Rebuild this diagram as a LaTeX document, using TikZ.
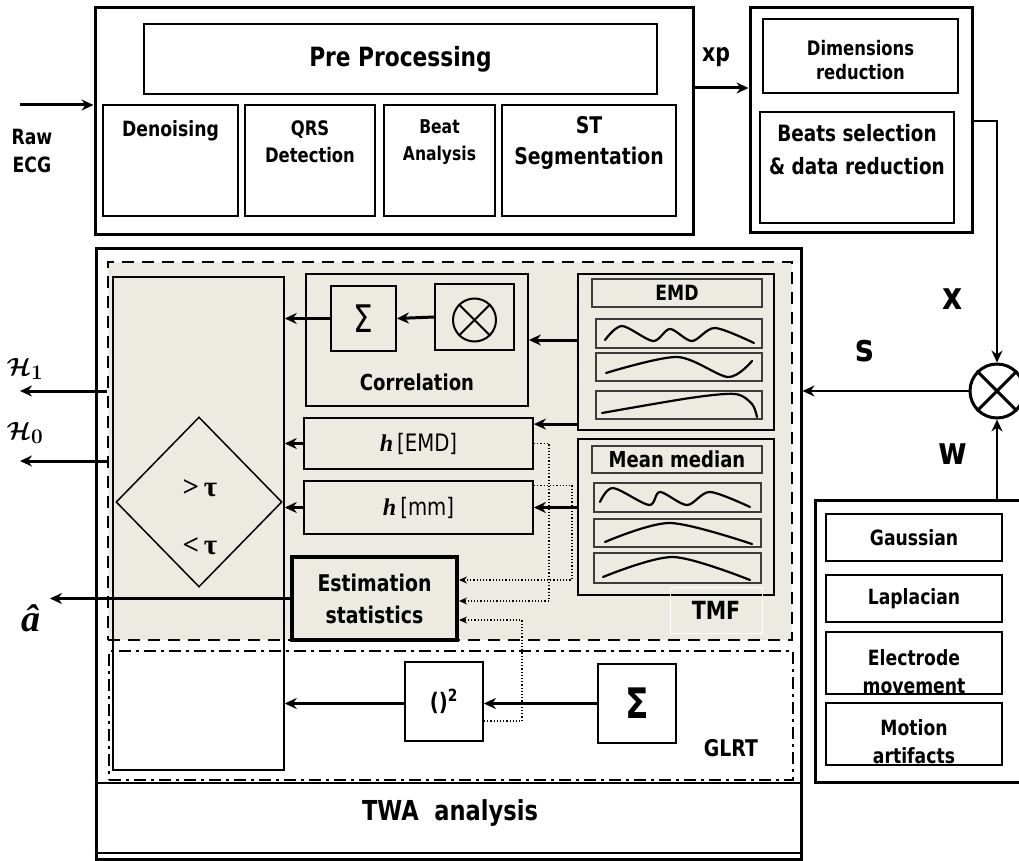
\documentclass[tikz,border=0pt]{standalone}
\usepackage{bm}
\usepackage{fontspec}
\setmainfont{DejaVu Sans}[FakeStretch=0.82]
\newfontfamily\serifbf{Liberation Serif}
\usetikzlibrary{arrows.meta,shapes.geometric}

\definecolor{panel}{RGB}{236,234,225}
\definecolor{edge}{RGB}{60,60,60}
\newcommand\fsz[2]{\fontsize{#1}{#2}\selectfont}

\begin{document}
\begin{tikzpicture}[x=1pt,y=-1pt,>={Stealth[length=12pt,width=11pt]},
frame/.style={draw,line width=3pt,inner sep=0pt},
box/.style={draw,line width=1.8pt,inner sep=0pt},
wavebox/.style={draw=edge,line width=1.2pt,inner sep=0pt},
flow/.style={->,line width=3pt},
dots/.style={line width=1.2pt,dotted,-{Stealth[length=8pt,width=7pt]}},
wave/.style={line width=2.2pt,line cap=round},
txt/.style={font=\bfseries\fsz{21}{28},align=center,inner sep=0pt}]

\useasboundingbox (0,0) rectangle (1019,861);
\clip (0,0) rectangle (1019,861);
\fill[white] (0,0) rectangle (1019,861);

% pre processing block
\node[frame,minimum width=598pt,minimum height=226pt] (pre) at (394,121) {};
\node[box,minimum width=513pt,minimum height=70pt,font=\bfseries\fsz{26.5}{30}] (pp) at (400.5,59) {Pre Processing};
\node[box,minimum width=135pt,minimum height=111pt] (den) at (170.5,160.5) {};
\node[box,minimum width=130pt,minimum height=111pt] (qrs) at (310,160.5) {};
\node[box,minimum width=111pt,minimum height=111pt] (beat) at (439.5,160.5) {};
\node[box,minimum width=174pt,minimum height=111pt] (seg) at (589,160.5) {};
\node[txt] (dent) at (170.5,131) {Denoising};
\node[txt,font=\bfseries\fsz{20}{27}] (qrst) at (310,142) {QRS\\Detection};
\node[txt,font=\bfseries\fsz{19}{27}] (beatt) at (439.5,142) {Beat\\Analysis};
\node[txt,font=\bfseries\fsz{23}{31}] (segt) at (589,143) {ST\\Segmentation};

\coordinate (raw) at (20,105);
\draw[flow] (raw) -- (raw -| pre.west);
\node[txt] (rawt) at (32,151) {Raw\\ECG};

% reduction block
\node[frame,minimum width=222pt,minimum height=224pt] (red) at (861,120) {};
\node[box,minimum width=195pt,minimum height=74pt] (dim) at (860.5,56) {};
\node[txt,font=\bfseries\fsz{20}{24}] (dimt) at (860.5,60) {Dimensions\\reduction};
\node[box,minimum width=194pt,minimum height=111pt] (sel) at (857,167.5) {};
\node[txt,font=\bfseries\fsz{22.5}{33}] (selt) at (857,150) {Beats selection\\\& data reduction};
\draw[flow] (pre.east |- 0,88) -- (red.west |- 0,88);
\node[font=\bfseries\fsz{25}{28}] (xp) at (716,57) {xp};

% TWA analysis block
\node[frame,minimum width=705pt,minimum height=611pt] (twa) at (448.5,553.5) {};
\node[draw,fill=panel,line width=2.5pt,dash pattern=on 12pt off 8pt,minimum width=684pt,minimum height=378pt,inner sep=0pt] (tmf) at (450,451) {};
\node[draw,line width=2.5pt,dash pattern=on 12pt off 5pt on 3pt off 5pt,minimum width=684pt,minimum height=129pt,inner sep=0pt] (glrt) at (451,715.5) {};
\draw[line width=1.5pt] (twa.west |- 0,783) -- (twa.east |- 0,783);
\draw[line width=1.2pt] (twa.west |- 0,853) -- (twa.east |- 0,853);
\node[font=\bfseries\fsz{27.5}{30}] (twat) at (450,813) {TWA\ \ analysis};

% decision column
\node[draw,line width=1.5pt,minimum width=171pt,minimum height=493pt,inner sep=0pt] (col) at (198.5,523.5) {};
\node[draw,diamond,line width=1.5pt,minimum width=166pt,minimum height=170pt,inner sep=0pt] (dec) at (199,502) {};
\node[font=\serifbf\bfseries\fsz{29}{30}] (gt) at (200,488) {>\,τ};
\node[font=\serifbf\bfseries\fsz{29}{30}] (lt) at (200,546) {<\,τ};

% correlation
\node[box,minimum width=222pt,minimum height=132pt] (corr) at (417,340) {};
\node[box,minimum width=65pt,minimum height=65pt,font=\fsz{38}{40}] (sumc) at (363.5,318.5) {Σ};
\node[box,minimum width=79pt,minimum height=66pt] (mult) at (474.5,317) {};
\node[circle,draw,line width=2pt,minimum size=43pt,inner sep=0pt] (tens) at (474.5,320) {};
\draw[line width=2pt] (tens.north west) -- (tens.south east) (tens.north east) -- (tens.south west);
\node[txt,font=\bfseries\fsz{22}{24}] (corrt) at (417,382) {Correlation};
\draw[flow] (mult.west) -- (sumc.east);
\draw[flow] (sumc.west) -- (col.east |- sumc.west);

% detectors
\node[box,fill=panel,minimum width=229pt,minimum height=51pt,font=\fsz{24}{26}] (hemd) at (418.5,443.5) {{\serifbf\bfseries\itshape h}\,[EMD]};
\node[box,fill=panel,minimum width=229pt,minimum height=53pt,font=\fsz{24}{26}] (hmm) at (418.5,507.5) {{\serifbf\bfseries\itshape h}\,[mm]};
\node[draw,fill=panel,line width=4pt,minimum width=165pt,minimum height=83pt,inner sep=0pt,font=\bfseries\fsz{23}{32},align=center] (est) at (374.5,598.5) {Estimation\\statistics};
\draw[flow] (hemd.west) -- (col.east |- hemd.west);
\draw[flow] (hmm.west) -- (col.east |- hmm.west);

\coordinate (ahat) at (50,601);
\draw[flow] (est.west) -- (ahat |- est.west);
\node[font=\serifbf\bfseries\itshape\fsz{38}{40}] (ahatt) at (31,618) {â};
\coordinate (h1) at (20,391);
\coordinate (h0) at (20,461);
\draw[flow] (tmf.west |- h1) -- (h1);
\draw[flow] (tmf.west |- h0) -- (h0);
\node[font=\fsz{28}{28}] (h1t) at (25,369) {$\bm{\mathcal{H}}_{\bm{1}}$};
\node[font=\fsz{28}{28}] (h0t) at (25,433) {$\bm{\mathcal{H}}_{\bm{0}}$};

% templates
\node[box,minimum width=196pt,minimum height=156pt] (emd) at (676,352) {};
\node[wavebox,minimum width=170pt,minimum height=28pt,font=\bfseries\fsz{21}{24}] (emdt) at (677,293) {EMD};
\node[wavebox,minimum width=166pt,minimum height=29pt] (e1) at (679,333.5) {};
\node[wavebox,minimum width=166pt,minimum height=28pt] (e2) at (679,367) {};
\node[wavebox,minimum width=166pt,minimum height=28pt] (e3) at (679,405) {};
\draw[wave] plot[smooth] coordinates {(605,340) (622,326) (653,341) (670,329) (692,341) (715,328) (754,343)};
\draw[wave] plot[smooth] coordinates {(606,373) (677,357) (728,377) (752,361)};
\draw[wave] plot[smooth] coordinates {(602,413) (690,398) (735,394) (752,404) (757,417)};

\node[box,minimum width=196pt,minimum height=156pt] (mm) at (676,517) {};
\node[wavebox,minimum width=170pt,minimum height=27pt,font=\bfseries\fsz{22}{24}] (mmt) at (677,459.5) {Mean median};
\node[wavebox,minimum width=167pt,minimum height=29pt] (m1) at (677.5,497.5) {};
\node[wavebox,minimum width=167pt,minimum height=28pt] (m2) at (677.5,533) {};
\node[wavebox,minimum width=167pt,minimum height=30pt] (m3) at (677.5,568) {};
\draw[wave] plot[smooth] coordinates {(600,502) (613,488) (649,505) (660,492) (687,505) (710,492) (750,507)};
\draw[wave] plot[smooth] coordinates {(605,542) (670,523) (752,544)};
\draw[wave] plot[smooth] coordinates {(603,577) (673,557) (750,580)};
\node[draw=white,line width=1pt,minimum width=92pt,minimum height=46pt,font=\bfseries\fsz{25}{28}] (tmft) at (716,610) {TMF};

\draw[flow] (emd.west |- corr.east) -- (corr.east);
\coordinate (hemdin) at ([yshift=-7pt]hemd.north east);
\draw[flow] (emd.west |- hemdin) -- (hemdin);
\draw[flow] (mm.west |- hmm.east) -- (hmm.east);

% GLRT
\node[box,fill=white,minimum width=78pt,minimum height=79pt,font=\bfseries\fsz{24}{26}] (sq) at (444,701.5) {()\textsuperscript{2}};
\node[box,minimum width=78pt,minimum height=79pt,font=\bfseries\fsz{42}{40}] (sumg) at (637,703.5) {Σ};
\draw[flow] (sumg.west) -- (sumg.west -| sq.east);
\draw[flow] (sq.west |- sumg.west) -- (col.east |- sumg.west);
\node[font=\bfseries\fsz{23}{26}] (glrtt) at (731,748) {GLRT};

% statistics feeds
\draw[dots] (hemd.east) -| (549,601) -- (est.east |- 0,601);
\draw[dots] ([yshift=-5pt]hmm.north east) -| (572,580) -- (est.east |- 0,580);
\draw[dots] (sq.east |- 0,721) -| (522,620) -- (est.east |- 0,620);

% noise models
\node[frame,minimum width=210pt,minimum height=282pt] (noise) at (920,641) {};
\node[box,minimum width=176pt,minimum height=47pt,font=\bfseries\fsz{21}{24}] (gauss) at (914,537.5) {Gaussian};
\node[box,minimum width=176pt,minimum height=47pt,font=\bfseries\fsz{21}{24}] (lap) at (914,598.5) {Laplacian};
\node[box,minimum width=176pt,minimum height=62pt] (elec) at (914,663) {};
\node[txt] (elect) at (914,672) {Electrode\\movement};
\node[box,minimum width=176pt,minimum height=62pt] (mot) at (914,734) {};
\node[txt] (mott) at (914,742) {Motion\\artifacts};

% mixing of signal and noise
\node[circle,draw,line width=3pt,minimum size=54pt,inner sep=0pt] (mix) at (997,391) {};
\draw[line width=3pt] (mix.north west) -- (mix.south east) (mix.north east) -- (mix.south west);
\draw[->,line width=2.5pt] (red.east |- 0,121) -| (mix.north);
\draw[->,line width=2.5pt] (noise.north -| mix) -- (mix.south);
\draw[->,line width=2.5pt] (mix.west) -- (twa.east |- mix.west);
\node[font=\bfseries\fsz{38}{40}] (xt) at (953,299) {x};
\node[font=\bfseries\fsz{38}{40}] (st) at (865,351) {s};
\node[font=\bfseries\fsz{38}{40}] (wt) at (953,454) {w};

\end{tikzpicture}
\end{document}
